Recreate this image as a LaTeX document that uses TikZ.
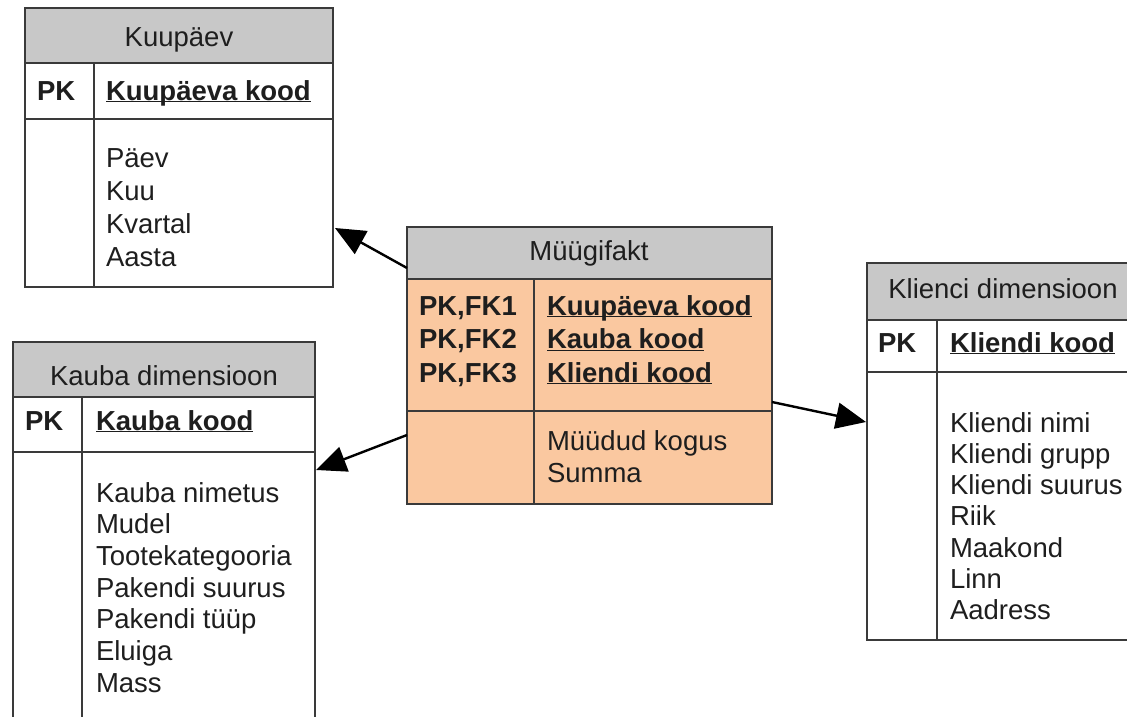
\documentclass[tikz,border=0pt]{standalone}
\usepackage{fontspec}
\setmainfont{Liberation Sans}
\usetikzlibrary{arrows.meta,calc}

\definecolor{hdrgray}{HTML}{C8C8C8}
\definecolor{factfill}{HTML}{FAC8A0}
\definecolor{ink}{HTML}{1E1E1E}
\definecolor{frame}{HTML}{3A3A3A}

% key attribute: underlined at a fixed distance below the baseline
\newcommand\keyname[1]{\underline{\smash{#1}}}

\begin{document}
\begin{tikzpicture}[x=1pt,y=-1pt,
  tablebox/.style={draw=frame,line width=1.6pt,anchor=north west,inner sep=0pt,outer sep=0pt,fill=white},
  hdrbox/.style={draw=frame,line width=1.6pt,anchor=north west,inner sep=0pt,outer sep=0pt,fill=hdrgray},
  gridline/.style={draw=frame,line width=1.6pt},
  txt/.style={inner sep=0pt,outer sep=0pt,text=ink,font=\fontsize{27.5}{32}\selectfont},
  celltext/.style={txt,anchor=base west},
  hdrtext/.style={txt,anchor=base},
  keytext/.style={txt,anchor=base west,font=\fontsize{27.5}{32}\selectfont\bfseries},
  fkarrow/.style={draw=black,line width=2.4pt,-{Triangle[length=30pt,width=26pt]}}]

\useasboundingbox (0,0) rectangle (1127,717);
\clip (0,0) rectangle (1127,717);

% ---------------- Kuupäev ----------------
\node[tablebox,minimum width=308pt,minimum height=279pt] (kuu) at (25,8) {};
\node[hdrbox,minimum width=308pt,minimum height=55pt] (kuuhead) at (kuu.north west) {};
\draw[gridline] ($(kuu.north west)+(0,111)$) -- ($(kuu.north east)+(0,111)$);
\draw[gridline] ($(kuuhead.south west)+(69,0)$) -- ($(kuu.south west)+(69,0)$);
\node[hdrtext] (kuutitle) at (179,47) {Kuupäev};
\node[keytext] (kuupk) at (37,100) {PK};
\node[keytext] (kuukey) at (106,100) {\keyname{Kuupäeva kood}};
\foreach \t [count=\i from 0] in {Päev,Kuu,Kvartal,Aasta}
  \node[celltext] (kuuattr\i) at (106,{167+33*\i}) {\t};

% ---------------- Kauba dimensioon ----------------
\node[tablebox,minimum width=302pt,minimum height=400pt] (kauba) at (13,342) {};
\node[hdrbox,minimum width=302pt,minimum height=55pt] (kaubahead) at (kauba.north west) {};
\draw[gridline] ($(kauba.north west)+(0,110)$) -- ($(kauba.north east)+(0,110)$);
\draw[gridline] ($(kaubahead.south west)+(69,0)$) -- ($(kauba.south west)+(69,0)$);
\node[hdrtext] (kaubatitle) at (164,385) {Kauba dimensioon};
\node[keytext] (kaubapk) at (25,430) {PK};
\node[keytext] (kaubakey) at (96,430) {\keyname{Kauba kood}};
\foreach \t [count=\i from 0] in {Kauba nimetus,Mudel,Tootekategooria,Pakendi suurus,Pakendi tüüp,Eluiga,Mass}
  \node[celltext] (kaubaattr\i) at (96,{502+31.7*\i}) {\t};

% ---------------- Müügifakt ----------------
\node[tablebox,fill=factfill,minimum width=365pt,minimum height=277pt] (fact) at (407,227) {};
\node[hdrbox,minimum width=365pt,minimum height=52pt] (facthead) at (fact.north west) {};
\draw[gridline] ($(fact.north west)+(0,184)$) -- ($(fact.north east)+(0,184)$);
\draw[gridline] ($(facthead.south west)+(127,0)$) -- ($(fact.south west)+(127,0)$);
\node[hdrtext] (facttitle) at (589,260) {Müügifakt};
\foreach \k/\t [count=\i from 0] in {1/Kuupäeva kood,2/Kauba kood,3/Kliendi kood}{
  \node[keytext] (factpk\i) at (419,{315+33.5*\i}) {PK,FK\k};
  \node[keytext] (factkey\i) at (547,{315+33.5*\i}) {\keyname{\t}};
}
\node[celltext] (factm0) at (547,450) {Müüdud kogus};
\node[celltext] (factm1) at (547,482) {Summa};

% ---------------- Klienci dimensioon ----------------
\node[tablebox,minimum width=272pt,minimum height=377pt] (klient) at (867,263) {};
\node[hdrbox,minimum width=272pt,minimum height=57pt] (klienthead) at (klient.north west) {};
\draw[gridline] ($(klient.north west)+(0,109)$) -- ($(klient.north east)+(0,109)$);
\draw[gridline] ($(klienthead.south west)+(70,0)$) -- ($(klient.south west)+(70,0)$);
\node[hdrtext] (klienttitle) at (1003,298) {Klienci dimensioon};
\node[keytext] (klientpk) at (878,352) {PK};
\node[keytext] (klientkey) at (950,352) {\keyname{Kliendi kood}};
\foreach \t [count=\i from 0] in {Kliendi nimi,Kliendi grupp,Kliendi suurus,Riik,Maakond,Linn,Aadress}
  \node[celltext] (klientattr\i) at (950,{432+31.3*\i}) {\t};

% ---------------- foreign key references ----------------
\coordinate (fkdate)  at ($(fact.north west)+(0,41)$);
\coordinate (fkitem)  at ($(fact.north west)+(0,208)$);
\coordinate (fkcust)  at ($(fact.north east)+(0,175)$);
\coordinate (pkdate)  at ($(kuu.south east)+(2,-59)$);
\coordinate (pkitem)  at ($(kauba.north east)+(1,128)$);
\coordinate (pkcust)  at ($(klient.north west)+(-1,159)$);

\draw[fkarrow] (fkdate) -- (pkdate);
\draw[fkarrow] (fkitem) -- (pkitem);
\draw[fkarrow] (fkcust) -- (pkcust);

\end{tikzpicture}
\end{document}
